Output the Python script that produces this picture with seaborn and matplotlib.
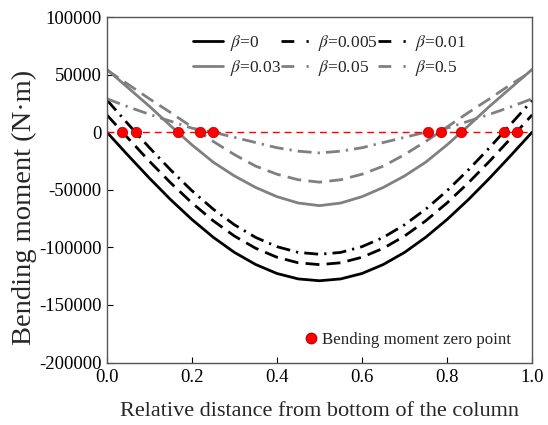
import matplotlib
matplotlib.use("Agg")
import matplotlib.pyplot as plt
import seaborn as sns
from matplotlib.lines import Line2D

# ---- data (N·m) ----
x_rel = [0.00, 0.05, 0.10, 0.15, 0.20, 0.25, 0.30, 0.35, 0.40, 0.45, 0.50,
         0.55, 0.60, 0.65, 0.70, 0.75, 0.80, 0.85, 0.90, 0.95, 1.00]

m_b0 = [0, -20200, -39900, -58600, -75800, -91200, -104400, -114900, -122700, -127400, -129000,
        -127400, -122700, -114900, -104400, -91200, -75800, -58600, -39900, -20200, 0]
m_b0005 = [15000, -5300, -25200, -44000, -61400, -76900, -90200, -100800, -108600, -113400, -115000,
           -113400, -108600, -100800, -90200, -76900, -61400, -44000, -25200, -5300, 15000]
m_b001 = [28000, 7000, -13400, -32800, -50800, -66800, -80400, -91400, -99400, -104400, -106000,
          -104400, -99400, -91400, -80400, -66800, -50800, -32800, -13400, 7000, 27500]
m_b003 = [54500, 38500, 22500, 5500, -11000, -26000, -38000, -48000, -56000, -61500, -63800,
          -61500, -56000, -48000, -38000, -26000, -11000, 5500, 22500, 38500, 54500]
m_b005 = [54000, 41500, 29000, 17000, 4500, -8000, -19500, -29500, -36500, -41300, -43400,
          -41300, -36500, -29500, -19500, -8000, 4500, 17000, 29000, 41500, 53000]
m_b05 = [29000, 22000, 15500, 9500, 3500, 0, -4500, -9000, -13500, -16500, -18000,
         -16500, -13500, -9000, -4500, 0, 3500, 9500, 15500, 22000, 29000]

zero_x = [0.035, 0.068, 0.167, 0.218, 0.249, 0.756, 0.786, 0.833, 0.934, 0.965]
zero_y = [0, 0, 0, 0, 0, 0, 0, 0, 0, 0]

series_labels = [r"$\beta$=0", r"$\beta$=0.005", r"$\beta$=0.01",
                 r"$\beta$=0.03", r"$\beta$=0.05", r"$\beta$=0.5"]
x_ticks = [0.0, 0.2, 0.4, 0.6, 0.8, 1.0]
y_ticks = [-200000, -150000, -100000, -50000, 0, 50000, 100000]

# ---- style ----
sns.set_theme(style="ticks")
plt.rcParams["font.family"] = ["Liberation Serif", "DejaVu Serif"]
plt.rcParams["mathtext.fontset"] = "stix"
plt.rcParams["xtick.direction"] = "in"
plt.rcParams["ytick.direction"] = "in"

fig = plt.figure(figsize=(5.48, 4.25), dpi=100)
ax = fig.add_axes([0.195, 0.147, 0.776, 0.813])

black = "#000000"
gray = "#808080"
dashed = (0, (5.0, 2.6))
dashdot = (0, (5.0, 2.2, 0.8, 2.2))
legend_dash = (0, (4.6, 4.4, 0.8, 10))
styles = [(black, "-"), (black, dashed), (black, dashdot),
          (gray, "-"), (gray, dashed), (gray, dashdot)]
all_series = [m_b0, m_b0005, m_b001, m_b003, m_b005, m_b05]

handles = []
for vals, lab, (col, ls) in zip(all_series, series_labels, styles):
    sns.lineplot(x=x_rel, y=vals, ax=ax, color=col, linestyle=ls, linewidth=2.0)
    hls = "-" if ls == "-" else legend_dash
    handles.append(Line2D([0], [0], color=col, linestyle=hls, linewidth=2.0, label=lab))

ax.axhline(0, color="#ff0000", linestyle=(0, (5, 3.5)), linewidth=1.0, zorder=3)
sns.scatterplot(x=zero_x, y=zero_y, ax=ax, color="#ff0000", edgecolor="#cc0000",
                s=55, linewidth=0.6, zorder=5)

ax.set_xlim(0, 1)
ax.set_ylim(-200000, 100000)
ax.set_xticks(x_ticks)
ax.set_xticklabels([f"{v:.1f}" for v in x_ticks])
ax.set_yticks(y_ticks)
ax.set_yticklabels([str(v) for v in y_ticks])
ax.tick_params(axis="both", labelsize=13.5, length=4, width=0.8, colors="#000000",
               top=False, right=False)
ax.tick_params(axis="x", pad=5)
ax.tick_params(axis="y", pad=4)
for s in ax.spines.values():
    s.set_color("#555555")
    s.set_linewidth(1.0)

ax.set_xlabel("Relative distance from bottom of the column", fontsize=16, labelpad=11)
ax.set_ylabel("Bending moment (N·m)", fontsize=20.5)
ax.yaxis.set_label_coords(-0.164, 0.45)

order = [0, 3, 1, 4, 2, 5]
leg1 = ax.legend(handles=[handles[i] for i in order], loc="upper left",
                 bbox_to_anchor=(0.202, 0.954), ncol=3, frameon=False, fontsize=12.5,
                 handlelength=1.75, handletextpad=0.4, columnspacing=0.0,
                 labelspacing=0.3, borderpad=0, borderaxespad=0)
ax.add_artist(leg1)
zp = Line2D([0], [0], marker="o", color="none", markerfacecolor="#ff0000",
            markeredgecolor="#cc0000", markersize=7.5, label="Bending moment zero point")
ax.legend(handles=[zp], loc="center left", bbox_to_anchor=(0.464, 0.066), frameon=False,
          fontsize=12.2, handlelength=0.8, handletextpad=0.26, borderpad=0,
          borderaxespad=0)

fig.savefig("out.png", dpi=100)
